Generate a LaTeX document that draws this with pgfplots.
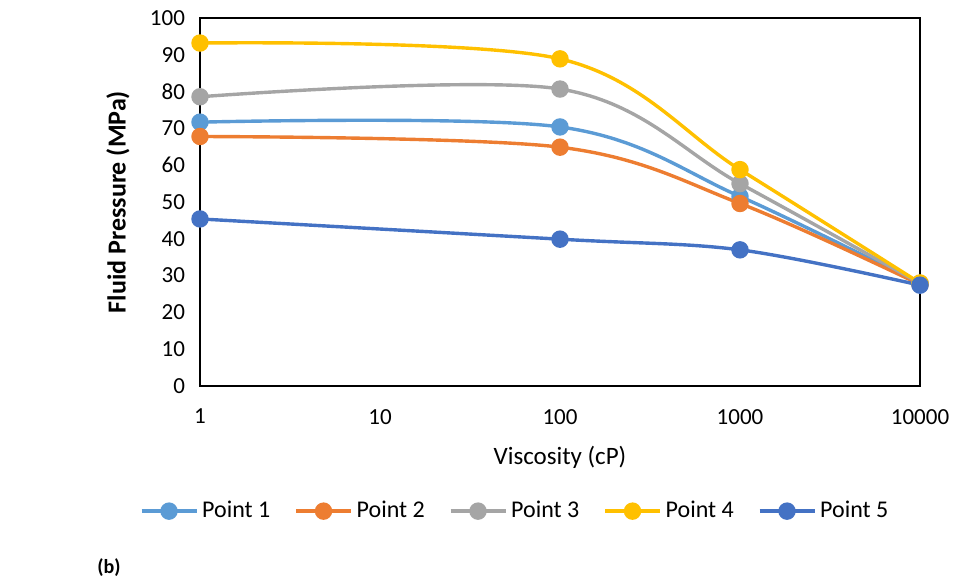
\documentclass[border=0pt]{standalone}
\usepackage{pgfplots}
\pgfplotsset{compat=1.18}
\usepackage{fontspec}
\setmainfont{Carlito}
\definecolor{cA}{HTML}{5B9BD5}
\definecolor{cB}{HTML}{ED7D31}
\definecolor{cC}{HTML}{A5A5A5}
\definecolor{cD}{HTML}{FFC000}
\definecolor{cE}{HTML}{4472C4}
\begin{document}
\begin{tikzpicture}[x=1pt,y=1pt]
\path[use as bounding box] (-100,-100) rectangle (379.5,193);
\begin{axis}[
  at={(0,0)}, anchor=south west,
  width=360pt, height=184pt, scale only axis,
  xmode=log, log basis x=10,
  xmin=1, xmax=10000, ymin=0, ymax=100,
  xtick={1,10,100,1000,10000},
  xticklabels={1,10,100,1000,10000},
  ytick={0,10,...,100},
  major tick length=0pt,
  axis line style={line width=1pt, black},
  /pgf/number format/assume math mode=true,
  tick label style={font=\fontsize{11.5}{13}\selectfont},
  yticklabel style={xshift=-4pt},
  xticklabel style={yshift=-8pt},
  xlabel={Viscosity (cP)},
  ylabel={\bfseries Fluid Pressure (MPa)},
  label style={font=\fontsize{12.5}{14}\selectfont},
  xlabel style={at={(axis description cs:0.5,-0.193)}, anchor=center},
  ylabel style={at={(axis description cs:-0.114,0.5)}, anchor=center, font=\fontsize{13}{15}\selectfont},
  every axis plot/.append style={smooth, tension=0.55, line width=1.7pt, mark=*, mark size=3.5pt},
  legend columns=5,
  legend style={at={(axis description cs:0.439,-0.340)}, anchor=center, draw=none,
    font=\fontsize{12}{14}\selectfont,
    /tikz/every even column/.append style={column sep=10pt}},
  legend image code/.code={\draw[mark repeat=2, mark phase=2, #1] plot coordinates {(0pt,0pt)(13.75pt,0pt)(27.5pt,0pt)};},
]
\addplot[color=cA] coordinates {(1,71.7)(100,70.4)(1000,51.5)(10000,27.8)};
\addlegendentry{Point 1}
\addplot[color=cB] coordinates {(1,67.8)(100,64.9)(1000,49.6)(10000,27.6)};
\addlegendentry{Point 2}
\addplot[color=cC] coordinates {(1,78.6)(100,80.7)(1000,55.0)(10000,27.9)};
\addlegendentry{Point 3}
\addplot[color=cD] coordinates {(1,93.2)(100,88.9)(1000,58.8)(10000,28.0)};
\addlegendentry{Point 4}
\addplot[color=cE] coordinates {(1,45.4)(100,39.9)(1000,37.0)(10000,27.4)};
\addlegendentry{Point 5}
\end{axis}
\node[font=\bfseries\fontsize{10}{12}\selectfont] at (-45.5,-91) {(b)};
\end{tikzpicture}
\end{document}
